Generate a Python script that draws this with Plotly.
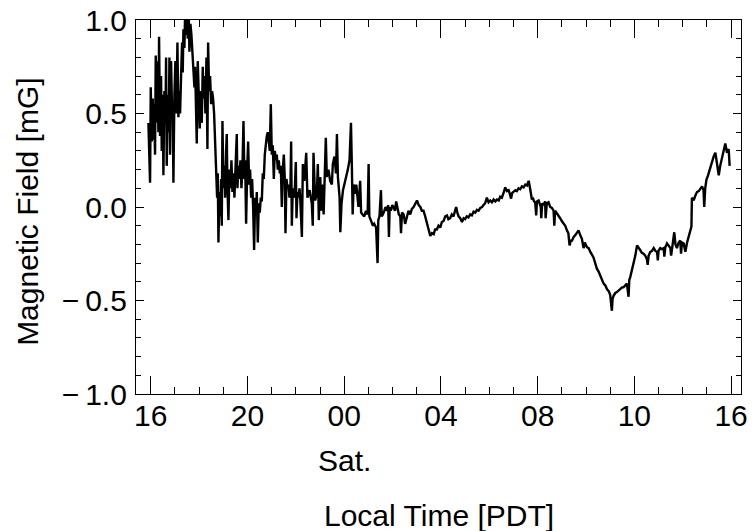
import plotly.graph_objects as go

# Local time in hours since midnight Friday (24 = 00 Sat.)
hours = [
    15.903, 15.930, 15.972, 16.000, 16.041, 16.082, 16.110, 16.137, 16.178, 16.206,
    16.247, 16.275, 16.316, 16.344, 16.385, 16.427, 16.454, 16.496, 16.523, 16.565,
    16.606, 16.634, 16.661, 16.703, 16.744, 16.772, 16.799, 16.841, 16.882, 16.910,
    16.937, 16.978, 17.020, 17.047, 17.075, 17.103, 17.144, 17.185, 17.213, 17.254,
    17.296, 17.323, 17.351, 17.392, 17.420, 17.461, 17.489, 17.530, 17.572, 17.599,
    17.641, 17.682, 17.723, 17.765, 17.806, 17.834, 17.875, 17.903, 17.944, 17.985,
    18.027, 18.068, 18.110, 18.151, 18.178, 18.220, 18.261, 18.303, 18.344, 18.372,
    18.413, 18.454, 18.496, 18.537, 18.578, 18.620, 18.661, 18.703, 18.744, 18.772,
    18.799, 18.841, 18.868, 18.910, 18.937, 18.965, 19.006, 19.047, 19.075, 19.116,
    19.144, 19.172, 19.213, 19.254, 19.296, 19.337, 19.378, 19.420, 19.461, 19.503,
    19.558, 19.585, 19.627, 19.668, 19.709, 19.751, 19.792, 19.834, 19.875, 19.903,
    19.944, 19.985, 20.027, 20.068, 20.109, 20.151, 20.192, 20.234, 20.275, 20.316,
    20.358, 20.385, 20.427, 20.468, 20.509, 20.551, 20.592, 20.634, 20.675, 20.716,
    20.758, 20.799, 20.840, 20.882, 20.923, 20.965, 21.006, 21.047, 21.089, 21.130,
    21.172, 21.213, 21.254, 21.296, 21.337, 21.378, 21.420, 21.461, 21.503, 21.544,
    21.572, 21.613, 21.654, 21.696, 21.737, 21.778, 21.806, 21.834, 21.875, 21.916,
    21.958, 21.999, 22.027, 22.068, 22.109, 22.151,
    22.18, 22.25, 22.29, 22.35, 22.43, 22.48, 22.57, 22.66, 22.70, 22.73,
    22.80, 22.87, 22.91, 22.95, 23.01, 23.05, 23.09, 23.15, 23.20, 23.24,
    23.28, 23.35, 23.42, 23.49, 23.53, 23.60, 23.66, 23.70, 23.74, 23.81,
    23.84, 23.89, 23.95, 24.01, 24.08, 24.15, 24.22, 24.28, 24.32, 24.35,
    24.39, 24.46, 24.50, 24.55, 24.59, 24.66, 24.70, 24.76, 24.83, 24.90,
    24.97, 25.01, 25.04, 25.10, 25.19, 25.24, 25.32, 25.38, 25.41, 25.46,
    25.52, 25.55, 25.60, 25.66, 25.71, 25.77, 25.82, 25.85, 25.88, 25.93,
    25.99, 26.04, 26.10, 26.15, 26.21, 26.26, 26.32, 26.35, 26.39, 26.46,
    26.52, 26.59, 26.66, 26.73, 26.80, 26.87, 26.94, 27.01, 27.08, 27.15,
    27.21, 27.28, 27.35, 27.42, 27.49, 27.56,
    27.63, 27.70, 27.76, 27.83, 27.90, 27.97, 28.04, 28.11, 28.18, 28.25,
    28.31, 28.38, 28.45, 28.52, 28.58, 28.63, 28.68, 28.73, 28.80, 28.87,
    28.94, 29.00, 29.07, 29.14, 29.21, 29.28, 29.35, 29.42, 29.49, 29.56,
    29.63, 29.70, 29.76, 29.83, 29.90, 29.97, 30.04, 30.11, 30.18, 30.25,
    30.32, 30.39, 30.45, 30.52, 30.59, 30.66, 30.73, 30.80, 30.85, 30.90,
    30.95, 31.01, 31.08, 31.14, 31.21, 31.28, 31.35, 31.42, 31.49, 31.56,
    31.63, 31.70, 31.76, 31.80, 31.85, 31.90, 31.94, 31.97, 32.04, 32.09,
    32.13, 32.15, 32.19, 32.25, 32.31, 32.33, 32.38, 32.45, 32.52, 32.59,
    32.66, 32.69, 32.72, 32.80, 32.86, 32.93, 33.00, 33.07, 33.14, 33.21,
    33.27, 33.32, 33.37, 33.42, 33.49, 33.56, 33.62, 33.69, 33.76, 33.83,
    33.90, 33.95, 34.04, 34.11, 34.18, 34.25, 34.31, 34.38, 34.45, 34.52,
    34.59, 34.66, 34.73, 34.80, 34.87, 34.94, 35.00, 35.07, 35.10, 35.14,
    35.21, 35.28, 35.35, 35.42, 35.49, 35.55, 35.62, 35.69, 35.76, 35.79,
    35.83, 35.90, 35.97, 36.04, 36.11, 36.17, 36.24, 36.31, 36.38, 36.45,
    36.52, 36.55, 36.59, 36.66, 36.73, 36.80, 36.87, 36.94, 36.97, 37.00,
    37.07, 37.14, 37.21, 37.24, 37.28, 37.35, 37.42, 37.49, 37.52, 37.58,
    37.65, 37.70, 37.76, 37.83, 37.90, 37.93, 37.97, 38.04, 38.11, 38.18,
    38.25, 38.29, 38.36, 38.38, 38.45, 38.52, 38.59, 38.66, 38.73, 38.80,
    38.86, 38.89, 38.93, 38.98, 39.05, 39.14, 39.21, 39.28, 39.35, 39.42,
    39.49, 39.55, 39.62, 39.69, 39.76, 39.83, 39.90, 39.94,
]

field_mG = [
    0.45, 0.30, 0.13, 0.64, 0.35, 0.58, 0.36, 0.55, 0.28, 0.81,
    0.45, 0.78, 0.40, 0.91, 0.38, 0.70, 0.30, 0.60, 0.17, 0.62,
    0.45, 0.80, 0.22, 0.60, 0.40, 0.80, 0.28, 0.78, 0.50, 0.55,
    0.13, 0.60, 0.78, 0.50, 0.62, 0.88, 0.48, 0.62, 0.50, 0.70,
    0.88, 0.72, 0.95, 0.85, 1.03, 0.92, 1.03, 0.90, 1.03, 0.83,
    0.98, 0.92, 0.82, 0.75, 0.64, 0.75, 0.55, 0.34, 0.78, 0.55,
    0.42, 0.62, 0.45, 0.75, 0.58, 0.70, 0.50, 0.80, 0.31, 0.88,
    0.62, 0.70, 0.55, 0.62, 0.58, 0.50, 0.35, 0.20, 0.05, 0.18,
    -0.19, 0.08, -0.05, 0.15, -0.10, 0.46, 0.10, 0.22, 0.05, 0.30,
    0.39, 0.10, -0.07, 0.20, 0.10, 0.25, 0.08, 0.18, 0.05, 0.20,
    0.39, 0.10, 0.22, 0.15, 0.25, 0.10, 0.20, 0.46, 0.15, 0.25,
    -0.09, 0.18, 0.35, 0.12, 0.20, 0.05, 0.15, 0.00, -0.23, 0.05,
    -0.03, 0.08, -0.19, 0.02, -0.03, 0.05, 0.03, 0.18, 0.15, 0.28,
    0.35, 0.38, 0.40, 0.35, 0.30, 0.55, 0.28, 0.33, 0.15, 0.30,
    0.25, 0.28, 0.20, 0.25, 0.18, 0.22, 0.00, 0.20, 0.28, 0.15,
    -0.14, 0.15, 0.10, 0.12, 0.05, 0.12, 0.35, -0.10, 0.10, 0.05,
    0.10, 0.24, -0.06, 0.08, 0.05, 0.10,
    0.05, -0.16, 0.23, 0.14, 0.29, 0.05, 0.09, 0.02, -0.10, 0.29,
    0.035, 0.07, 0.23, -0.07, 0.16, -0.02, 0.12, -0.04, 0.18, 0.37,
    0.16, 0.20, 0.14, 0.12, 0.23, 0.27, 0.18, 0.39, 0.16, 0.05,
    -0.135, 0.02, 0.09, 0.12, 0.16, 0.20, 0.25, 0.45, 0.20, -0.04,
    0.12, 0.07, 0.12, 0.035, 0.00, 0.14, -0.03, -0.04, -0.05, -0.02,
    -0.04, 0.23, -0.05, -0.07, -0.10, -0.09, -0.11, -0.30, -0.07, -0.05,
    0.09, -0.05, -0.04, -0.02, 0.00, -0.02, 0.01, -0.16, 0.00, -0.02,
    0.01, 0.00, -0.02, 0.03, 0.00, -0.04, -0.05, -0.14, -0.03, -0.04,
    -0.09, -0.06, -0.02, -0.04, -0.01, 0.00, 0.02, 0.035, 0.01, 0.00,
    -0.02, -0.02, -0.05, -0.08, -0.12, -0.155,
    -0.14, -0.145, -0.12, -0.12, -0.10, -0.11, -0.08, -0.075, -0.05, -0.045,
    -0.065, -0.06, -0.04, -0.05, -0.02, 0.00, -0.03, -0.05, -0.06, -0.08,
    -0.06, -0.065, -0.05, -0.055, -0.04, -0.045, -0.025, -0.03, -0.015, -0.02,
    -0.005, 0.00, 0.01, 0.02, 0.05, 0.025, 0.035, 0.025, 0.04, 0.03,
    0.04, 0.035, 0.055, 0.05, 0.075, 0.105, 0.085, 0.09, 0.07, 0.045,
    0.075, 0.08, 0.09, 0.085, 0.10, 0.095, 0.11, 0.105, 0.12, 0.115,
    0.14, 0.09, 0.04, 0.05, 0.03, 0.025, -0.045, 0.03, 0.035, 0.015,
    0.00, -0.06, 0.02, 0.01, 0.03, -0.06, 0.02, 0.025, 0.00, -0.005,
    -0.02, -0.10, -0.02, -0.035, -0.05, -0.06, -0.075, -0.09, -0.10, -0.125,
    -0.14, -0.205, -0.18, -0.18, -0.16, -0.15, -0.14, -0.125, -0.15, -0.17,
    -0.22, -0.19, -0.215, -0.22, -0.24, -0.26, -0.27, -0.30, -0.33, -0.345,
    -0.365, -0.39, -0.41, -0.42, -0.44, -0.45, -0.47, -0.555, -0.49, -0.475,
    -0.46, -0.455, -0.445, -0.44, -0.43, -0.43, -0.42, -0.41, -0.48, -0.39,
    -0.375, -0.34, -0.305, -0.26, -0.205, -0.22, -0.23, -0.245, -0.25, -0.26,
    -0.28, -0.31, -0.26, -0.24, -0.235, -0.22, -0.235, -0.24, -0.285, -0.235,
    -0.22, -0.225, -0.22, -0.265, -0.215, -0.195, -0.21, -0.22, -0.26, -0.20,
    -0.135, -0.20, -0.22, -0.19, -0.18, -0.25, -0.19, -0.195, -0.24, -0.19,
    -0.16, -0.145, -0.105, 0.05, 0.035, 0.06, 0.08, 0.085, 0.10, 0.11,
    0.09, 0.00, 0.10, 0.145, 0.17, 0.215, 0.24, 0.27, 0.29, 0.23,
    0.17, 0.22, 0.26, 0.30, 0.34, 0.29, 0.31, 0.22,
]

x_tick_vals = [16, 20, 24, 28, 32, 36, 40]
x_tick_text = ["16", "20", "00", "04", "08", "10", "16"]
y_tick_vals = [-1.0, -0.5, 0.0, 0.5, 1.0]
y_tick_text = ["\u2212\u20091.0", "\u2212\u20090.5", "0.0", "0.5", "1.0"]

FONT = "Liberation Sans, Arial, Helvetica, sans-serif"
FS = 30

fig = go.Figure()
fig.add_trace(go.Scatter(
    x=hours, y=field_mG, mode="lines",
    line=dict(color="black", width=2.4),
    showlegend=False, hoverinfo="skip",
))

fig.update_layout(
    template="none",
    width=752, height=531,
    margin=dict(l=136, r=11, t=20, b=137, autoexpand=False),
    paper_bgcolor="white", plot_bgcolor="white",
    font=dict(family=FONT, size=FS, color="black"),
    xaxis=dict(
        range=[15.39, 40.41], automargin=False,
        tickmode="array", tickvals=x_tick_vals, ticktext=x_tick_text,
        ticks="inside", ticklen=18, tickwidth=1, tickcolor="black",
        minor=dict(dtick=1, tick0=0, ticks="inside", ticklen=7,
                   tickwidth=1, tickcolor="black", showgrid=False),
        showline=True, linecolor="black", linewidth=1.2, mirror="ticks",
        showgrid=False, zeroline=False,
        tickfont=dict(family=FONT, size=FS, color="black"),
        ticklabelstandoff=-5,
    ),
    yaxis=dict(
        range=[-1.0, 1.0], automargin=False,
        tickmode="array", tickvals=y_tick_vals, ticktext=y_tick_text,
        ticks="inside", ticklen=8, tickwidth=1, tickcolor="black",
        minor=dict(dtick=0.1, tick0=0, ticks="inside", ticklen=5,
                   tickwidth=1, tickcolor="black", showgrid=False),
        showline=True, linecolor="black", linewidth=1.2, mirror="ticks",
        showgrid=False, zeroline=False,
        tickfont=dict(family=FONT, size=FS, color="black"),
        ticklabelstandoff=2,
    ),
    annotations=[
        dict(text="Sat.", x=24, xref="x", y=-0.179, yref="paper",
             xanchor="center", yanchor="middle", showarrow=False,
             font=dict(family=FONT, size=FS, color="black")),
        dict(text="Local Time [PDT]", x=0.5, xref="paper", y=-0.325, yref="paper",
             xanchor="center", yanchor="middle", showarrow=False,
             font=dict(family=FONT, size=FS, color="black")),
        dict(text="Magnetic Field [mG]", x=-0.1785, xref="paper", y=0.487, yref="paper",
             xanchor="center", yanchor="middle", textangle=-90, showarrow=False,
             font=dict(family=FONT, size=FS, color="black")),
    ],
)

fig.write_html("out.html", config={"displayModeBar": False},
               post_script="document.body.style.margin='0';")
